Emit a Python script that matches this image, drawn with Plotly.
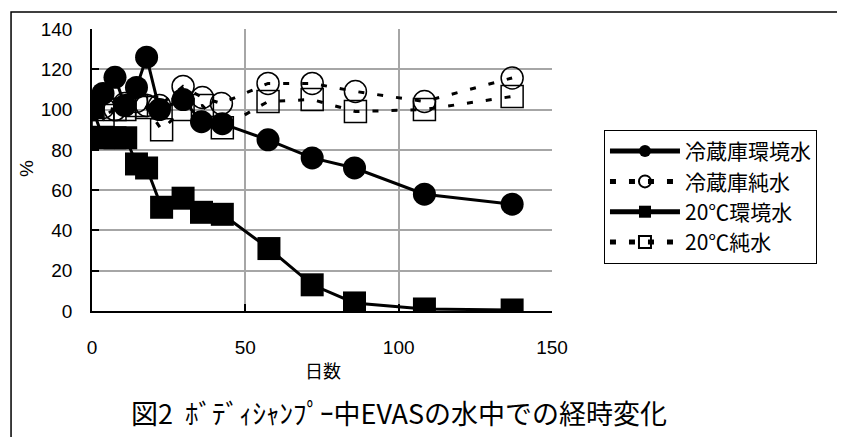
import plotly.graph_objects as go

# ---- data ----
days_cold_env = [0, 3.6, 7.5, 10.7, 14.5, 17.8, 22, 29.7, 35.7, 42.5, 57.4, 71.8, 85.6, 108.4, 137]
cold_env = [100, 108, 116, 102, 111, 126, 100, 105, 94, 93, 85, 76, 71, 58, 53]

days_cold_pure = [0, 3.6, 7.5, 10.7, 14.5, 17.8, 22, 29.7, 36, 42.2, 57.4, 71.8, 85.9, 108.4, 137]
cold_pure = [100, 101, 100, 103, 104, 102, 102, 111.5, 106, 103, 113, 113, 109, 104, 115.7]

days_warm_env = [0, 3.6, 7.5, 11, 14.5, 17.8, 22.7, 29.7, 35.7, 42.5, 57.7, 71.8, 85.6, 108.4, 137]
warm_env = [101, 86, 86, 86, 73, 71, 51.5, 56, 49, 48, 31, 13, 4, 1, 0.5]

days_warm_pure = [0, 3.6, 7.5, 10.7, 14.5, 17.8, 22.7, 29.7, 36, 42.5, 57.4, 71.8, 85.9, 108.4, 137]
warm_pure = [100, 97, 100, 100, 102, 101, 90, 100, 102, 91, 104, 105, 99, 100, 106.5]

names = ["冷蔵庫環境水", "冷蔵庫純水", "20℃環境水", "20℃純水"]
x_ticks = [0, 50, 100, 150]
y_ticks = [0, 20, 40, 60, 80, 100, 120, 140]

FONT = "Noto Sans CJK JP"
DASH = "6px,13px"

fig = go.Figure()
fig.add_trace(go.Scatter(x=days_cold_pure, y=cold_pure, name=names[1], legendrank=2,
                         mode="lines+markers",
                         line=dict(color="black", width=3, dash=DASH),
                         marker=dict(symbol="circle-open", size=22, color="black", line=dict(width=1.5))))
fig.add_trace(go.Scatter(x=days_warm_pure, y=warm_pure, name=names[3], legendrank=4,
                         mode="lines+markers",
                         line=dict(color="black", width=3, dash=DASH),
                         marker=dict(symbol="square-open", size=22, color="black", line=dict(width=1.5))))
fig.add_trace(go.Scatter(x=days_cold_env, y=cold_env, name=names[0], legendrank=1,
                         mode="lines+markers",
                         line=dict(color="black", width=3),
                         marker=dict(symbol="circle", size=23, color="black")))
fig.add_trace(go.Scatter(x=days_warm_env, y=warm_env, name=names[2], legendrank=3,
                         mode="lines+markers",
                         line=dict(color="black", width=3),
                         marker=dict(symbol="square", size=23, color="black")))

axis_common = dict(showgrid=True, gridcolor="#a6a6a6", gridwidth=1.5,
                   showline=True, linecolor="black", linewidth=1.5,
                   ticks="inside", ticklen=7, tickcolor="black", tickwidth=1.5,
                   zeroline=False, tickfont=dict(family="Liberation Sans", size=19, color="black"))

fig.update_xaxes(range=[0, 150], tickvals=x_ticks, ticklabelstandoff=18, **axis_common)
fig.update_yaxes(range=[0, 140], tickvals=y_ticks, ticklabelstandoff=14, **axis_common)

fig.update_layout(
    width=845, height=437,
    margin=dict(l=84, r=301, t=21, b=134),
    paper_bgcolor="white", plot_bgcolor="white",
    font=dict(family=FONT, color="black"),
    showlegend=True,
    legend=dict(x=1.113, y=0.642, xanchor="left", yanchor="top",
                bordercolor="black", borderwidth=1, bgcolor="white",
                font=dict(family=FONT, size=21), itemsizing="constant", itemwidth=70,
                tracegroupgap=0),
    shapes=[dict(type="rect", xref="paper", yref="paper", x0=-0.176, x1=2.0, y0=-1.0, y1=1.060,
                 line=dict(color="black", width=1.5), fillcolor="rgba(0,0,0,0)", layer="below")],
    annotations=[
        dict(text="%", xref="paper", yref="paper", x=(26 - 92) / 460, y=(311 - 169) / 282,
             xanchor="center", yanchor="middle",
             showarrow=False, textangle=-90, font=dict(family="Liberation Sans", size=19)),
        dict(text="日数", xref="paper", yref="paper", x=(323 - 92) / 460, y=(311 - 370) / 282,
             xanchor="center", yanchor="middle",
             showarrow=False, font=dict(family=FONT, size=18)),
        dict(text="図2\u00a0\u00a0ﾎﾞﾃﾞｨｼｬﾝﾌﾟｰ中EVASの水中での経時変化", xref="paper", yref="paper",
             x=(399 - 92) / 460, y=(311 - 412) / 282, xanchor="center", yanchor="middle",
             showarrow=False, font=dict(family=FONT, size=27)),
    ],
)

fig.write_html("out.html")
